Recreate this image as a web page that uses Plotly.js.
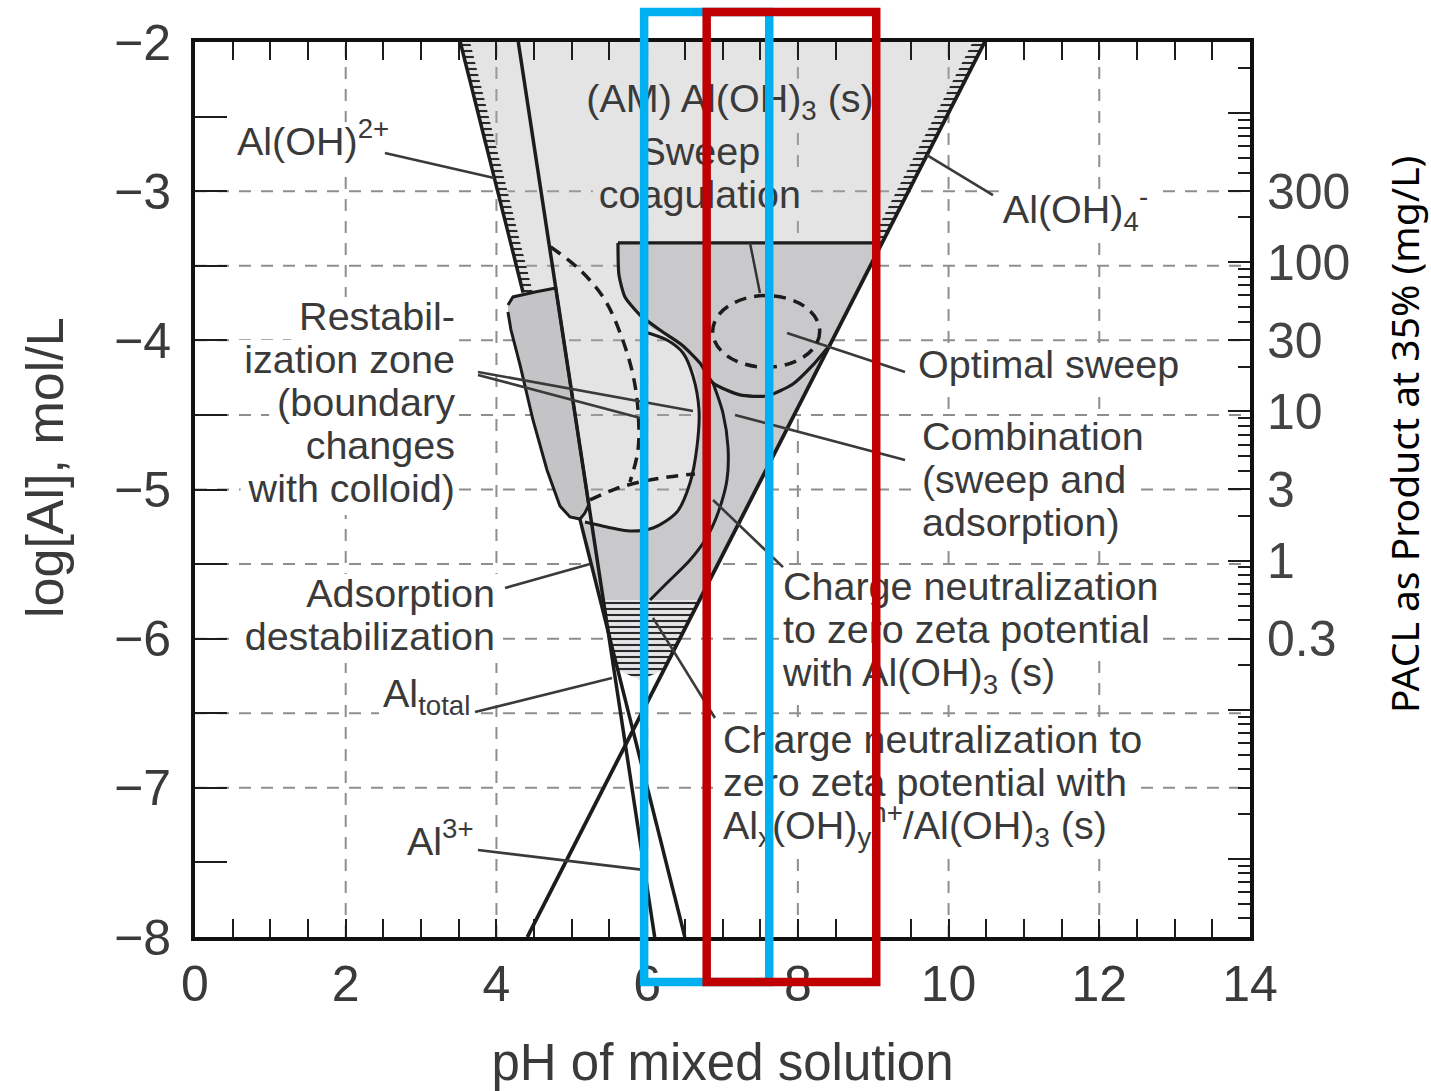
<!DOCTYPE html>
<html><head><meta charset="utf-8">
<script src="https://cdn.plot.ly/plotly-3.0.1.min.js"></script>
<style>html,body{margin:0;padding:0;background:#fff;}#chart{width:1431px;height:1091px;}</style>
</head><body><div id="chart"></div>
<script>
// ---------------- axes ----------------
const phTicks = [0, 2, 4, 6, 8, 10, 12, 14];
const logTicks = [-8, -7, -6, -5, -4, -3, -2];
const logHalfGrid = [-6.5, -5.5, -4.5, -3.5];
const logHalfEdge = [-7.5, -2.5];
const paclLabels = [300, 100, 30, 10, 3, 1, 0.3];          // mg/L, right axis
const paclDecadesUnlabeled = [1000, 0.1, 0.01];
const paclOffset = 5.477;                                   // log10(mg/L) = log[Al] + offset

// ---------------- species lines (pH, log[Al]) ----------------
const alOH4_pH = [10.48, 4.41];               const alOH4_log = [-2, -8];
const alOH2_pH = [3.52, 4.354, null, 5.109, 6.50]; const alOH2_log = [-2, -3.68, null, -5.20, -8];
const al3_pH = [4.29, 6.10];                  const al3_log = [-2, -8];

// ---------------- regions ----------------
const sweep_pH = [3.52, 10.48, 6.42, 6.01, 5.545];
const sweep_log = [-2, -2, -6.01, -6.22, -6.076];
const hatchL_pH = [3.52, 3.65, 4.484, 4.354];   const hatchL_log = [-2, -2, -3.68, -3.68];
const hatchR_pH = [10.48, 10.32, 8.957, 9.117]; const hatchR_log = [-2, -2, -3.347, -3.347];
const hatchTip_pH = [5.378, 6.695, 6.221, 5.905, 5.611];
const hatchTip_log = [-5.741, -5.741, -6.21, -6.277, -6.21];
const combo_pH = [5.613, 9.117, 6.695, 5.378, 5.109, 5.467, 5.772, 6.078, 6.396, 6.569, 6.675, 6.702, 6.635, 6.476, 6.263, 6.038, 5.879, 5.706, 5.626];
const combo_log = [-3.347, -3.347, -5.741, -5.741, -5.218, -5.251, -5.278, -5.271, -5.171, -4.970, -4.715, -4.447, -4.219, -4.065, -3.978, -3.911, -3.823, -3.709, -3.562];
const boxTop_pH = [9.117, 5.613];             const boxTop_log = [-3.347, -3.347];
const bowl_pH = [5.613, 5.626, 5.706, 5.905, 6.170, 6.462, 6.701, 6.874, 7.232, 7.590, 7.935, 8.201, 8.425];
const bowl_log = [-3.347, -3.562, -3.709, -3.830, -3.931, -4.031, -4.152, -4.286, -4.366, -4.373, -4.293, -4.165, -4.031];
const oval_pH = [5.971, 6.263, 6.476, 6.608, 6.688, 6.661, 6.569, 6.396, 6.078, 5.772, 5.467, 5.175];
const oval_log = [-3.944, -3.998, -4.085, -4.239, -4.467, -4.715, -4.956, -5.151, -5.258, -5.278, -5.251, -5.218];
const inner_pH = [6.874, 7.006, 7.073, 7.059, 6.940, 6.794, 6.569, 6.263, 6.038];
const inner_log = [-4.286, -4.487, -4.715, -4.936, -5.157, -5.318, -5.473, -5.627, -5.741];
const divider_pH = [7.365, 7.497];            const divider_log = [-3.347, -3.683];
const restab_pH = [4.153, 4.220, 4.512, 4.787, 5.226, 5.170, 5.109, 4.976, 4.843, 4.671, 4.485, 4.313, 4.193, 4.153];
const restab_log = [-3.763, -3.709, -3.676, -3.649, -5.104, -5.160, -5.198, -5.184, -5.111, -4.869, -4.534, -4.165, -3.931, -3.810];
const dash1_pH = [4.72, 5.109, 5.441, 5.666, 5.812, 5.879, 5.879, 5.772];
const dash1_log = [-3.374, -3.528, -3.730, -3.984, -4.232, -4.467, -4.735, -4.950];
const dash2_pH = [5.242, 5.573, 5.905, 6.277, 6.635];
const dash2_log = [-5.070, -4.997, -4.950, -4.916, -4.896];
const optimal_pH = [6.87, 8.29];              const optimal_log = [-4.18, -3.70];

// ---------------- pointer lines ----------------
const pointers_pH = [[2.52, 3.97], [9.713, 10.589], [3.755, 6.608], [3.755, 6.011], [9.422, 7.166], [7.856, 9.422], [6.874, 7.803], [6.078, 6.900], [4.114, 5.242], [3.716, 5.534], [3.755, 5.95]];
const pointers_log = [[-2.744, -2.912], [-2.758, -3.026], [-4.212, -4.474], [-4.232, -4.534], [-4.802, -4.500], [-3.951, -4.212], [-5.070, -5.520], [-5.861, -6.532], [-5.660, -5.499], [-6.492, -6.264], [-7.417, -7.55]];

// ---------------- labels ----------------
const labelText = [
  ['Al(OH)<sup>2+</sup>'],
  ['(AM) Al(OH)<sub>3</sub> (s)'],
  ['Sweep', 'coagulation'],
  ['Al(OH)<sub>4</sub><sup>-</sup>'],
  ['Restabil-', 'ization zone', '(boundary', 'changes', 'with colloid)'],
  ['Optimal sweep'],
  ['Combination', '(sweep and', 'adsorption)'],
  ['Charge neutralization', 'to zero zeta potential', 'with Al(OH)<sub>3</sub> (s)'],
  ['Charge neutralization to', 'zero zeta potential with', 'Al<sub>x</sub>(OH)<sub>y</sub><sup>n+</sup>/Al(OH)<sub>3</sub> (s)'],
  ['Adsorption', 'destabilization'],
  ['Al<sub>total</sub>'],
  ['Al<sup>3+</sup>']
];
const label_pH  = [0.557, 7.10, 6.70, 10.72, 3.45, 9.594, 9.647, 7.803, 7.006, 3.981, 2.495, 2.813];
const label_log = [-2.69, -2.40, -2.758, -3.146, -3.864, -4.185, -4.668, -5.674, -6.699, -5.721, -6.391, -7.383];
const labelPos = ['middle right', 'middle center', 'middle center', 'middle right', 'middle left', 'middle right', 'middle right', 'middle right', 'middle right', 'middle left', 'middle right', 'middle right'];

// ---------------- highlight bands ----------------
const blueBand_pH = [5.96, 7.62];
const redBand_pH = [6.79, 9.04];

// ================= build =================
const FONT = 'Liberation Sans, Arial, Helvetica, sans-serif';
const TXT = '#3a3a3a';
const INK = '#1c1c1c';
const LABEL_SIZE = 39.5;
const PX_X = 14 / 1055, PX_Y = 6 / 895;        // data units per pixel
const LINE_STEP = 43 * PX_Y;
const NOLINE = {color: 'rgba(0,0,0,0)', width: 0};
const data = [];
function poly(x, y, fillcolor, extra) {
  data.push(Object.assign({x, y, mode: 'lines', fill: 'toself', fillcolor, line: NOLINE, hoverinfo: 'skip', showlegend: false}, extra || {}));
}
function curve(x, y, width, color, extra) {
  data.push(Object.assign({x, y, mode: 'lines', line: {color, width}, hoverinfo: 'skip', showlegend: false}, extra || {}));
}
const hatch = bg => ({shape: '-', size: 6, solidity: 0.35, fgcolor: '#2a2a2a', bgcolor: bg, fillmode: 'replace'});

// dashed grid (as traces so labels can mask it)
const gx = [], gy = [];
phTicks.slice(1, -1).forEach(v => { gx.push(v, v, null); gy.push(-8, -2, null); });
logTicks.slice(1, -1).concat(logHalfGrid).forEach(v => { gx.push(0, 14, null); gy.push(v, v, null); });
curve(gx, gy, 2, '#8e8e8e', {line: {color: '#8e8e8e', width: 2, dash: '12px,10px'}});

// white masks behind labels
const cv = document.createElement('canvas').getContext('2d');
function textWidth(html, size) {
  let w = 0;
  html.split(/(<su[bp]>.*?<\/su[bp]>)/).forEach(p => {
    if (!p) return;
    const m = p.match(/^<su[bp]>(.*)<\/su[bp]>$/);
    cv.font = (m ? size * 0.7 : size) + 'px "Liberation Sans"';
    w += cv.measureText(m ? m[1] : p).width;
  });
  return w;
}
const mx = [], my = [];
labelText.forEach((lines, k) => {
  lines.forEach((t, i) => {
    const w = textWidth(t, LABEL_SIZE);
    let x0, x1;
    if (labelPos[k] === 'middle right') { x0 = label_pH[k] - 4 * PX_X; x1 = label_pH[k] + (w + 8) * PX_X; }
    else if (labelPos[k] === 'middle left') { x0 = label_pH[k] - (w + 8) * PX_X; x1 = label_pH[k] + 4 * PX_X; }
    else { x0 = label_pH[k] - (w / 2 + 6) * PX_X; x1 = label_pH[k] + (w / 2 + 6) * PX_X; }
    const yc = label_log[k] - i * LINE_STEP, h = 23 * PX_Y;
    mx.push(x0, x1, x1, x0, x0, null); my.push(yc - h, yc - h, yc + h, yc + h, yc - h, null);
  });
});
poly(mx, my, '#ffffff');

poly(sweep_pH, sweep_log, 'rgba(175,175,180,0.34)');
poly(hatchL_pH, hatchL_log, '#e3e3e5', {fillpattern: hatch('#e3e3e5')});
poly(hatchR_pH, hatchR_log, '#e3e3e5', {fillpattern: hatch('#e3e3e5')});
poly(combo_pH, combo_log, '#c9c9cc');
poly(hatchTip_pH, hatchTip_log, '#e6e6e8', {fillpattern: hatch('#e6e6e8')});
curve(alOH2_pH, alOH2_log, 3.5, INK);
poly(restab_pH, restab_log, '#c4c4c7', {line: {color: INK, width: 3}});
curve(alOH4_pH, alOH4_log, 3.8, INK);
curve(al3_pH, al3_log, 3.5, INK);
curve(boxTop_pH, boxTop_log, 3.2, INK);
curve(bowl_pH, bowl_log, 3.2, INK, {line: {color: INK, width: 3.2, shape: 'spline', smoothing: 0.6}});
curve(oval_pH, oval_log, 3, INK, {line: {color: INK, width: 3, shape: 'spline', smoothing: 0.8}});
curve(inner_pH, inner_log, 3, INK, {line: {color: INK, width: 3, shape: 'spline', smoothing: 0.8}});
curve(divider_pH, divider_log, 2.5, '#333');
curve(dash1_pH, dash1_log, 3.5, INK, {line: {color: INK, width: 3.5, dash: '12px,8px', shape: 'spline'}});
curve(dash2_pH, dash2_log, 3.5, INK, {line: {color: INK, width: 3.5, dash: '12px,8px', shape: 'spline'}});

// pointers
const px = [], py = [];
pointers_pH.forEach((p, i) => { px.push(p[0], p[1], null); py.push(pointers_log[i][0], pointers_log[i][1], null); });
curve(px, py, 2.6, '#3a3a3a');

// labels as text traces
labelText.forEach((lines, k) => {
  data.push({
    x: lines.map(() => label_pH[k]),
    y: lines.map((t, i) => label_log[k] - i * LINE_STEP),
    text: lines, mode: 'text', textposition: labelPos[k],
    textfont: {family: FONT, size: LABEL_SIZE, color: TXT},
    hoverinfo: 'skip', showlegend: false, cliponaxis: false
  });
});

// carrier trace for right axis
data.push({x: [7], y: [-5], yaxis: 'y2', mode: 'markers', marker: {opacity: 0}, hoverinfo: 'skip', showlegend: false});

// right axis ticks
const toLog = v => Math.log10(v) - paclOffset;
const paclMajor = paclLabels.concat(paclDecadesUnlabeled);
const paclMinor = [];
[0.001, 0.01, 0.1, 1, 10, 100, 1000].forEach(d => {
  for (let m = 2; m <= 9; m++) {
    const v = +(m * d).toPrecision(3);
    const lv = toLog(v);
    if (lv > -8 && lv < -2 && paclLabels.indexOf(v) < 0) paclMinor.push(lv);
  }
});

const tickFont = {family: FONT, size: 50, color: TXT};
const layout = {
  width: 1431, height: 1091,
  margin: {l: 195, r: 181, t: 42, b: 154},
  paper_bgcolor: '#ffffff', plot_bgcolor: '#ffffff',
  showlegend: false, hovermode: false,
  xaxis: {
    range: [0, 14], tickmode: 'array', tickvals: phTicks,
    ticks: 'inside', ticklen: 18, tickwidth: 2, tickcolor: INK,
    showline: true, linewidth: 4, linecolor: '#111', mirror: 'ticks', zeroline: false, showgrid: false,
    tickfont: tickFont, ticklabelstandoff: 0,
    minor: {tickmode: 'linear', tick0: 0, dtick: 0.5, ticks: 'inside', ticklen: 18, tickwidth: 2, tickcolor: INK, showgrid: false},
    title: {text: 'pH of mixed solution', font: {family: FONT, size: 51, color: TXT}, standoff: 43}
  },
  yaxis: {
    range: [-8, -2], tickmode: 'array', tickvals: logTicks,
    ticks: 'inside', ticklen: 32, tickwidth: 2, tickcolor: INK,
    showline: true, linewidth: 4, linecolor: '#111', mirror: true, zeroline: false, showgrid: false,
    tickfont: tickFont, ticklabelstandoff: 10,
    minor: {tickmode: 'array', tickvals: logHalfGrid.concat(logHalfEdge), ticks: 'inside', ticklen: 32, tickwidth: 2, tickcolor: INK, showgrid: false}
  },
  yaxis2: {
    overlaying: 'y', side: 'right', range: [-8, -2],
    tickmode: 'array', tickvals: paclMajor.map(toLog),
    ticktext: paclMajor.map(v => paclLabels.indexOf(v) >= 0 ? String(v) : ''),
    ticks: 'inside', ticklen: 22, tickwidth: 2, tickcolor: INK,
    showgrid: false, showline: false, zeroline: false,
    tickfont: {family: FONT, size: 50, color: '#444'}, ticklabelstandoff: 16,
    minor: {tickmode: 'array', tickvals: paclMinor, ticks: 'inside', ticklen: 12, tickwidth: 2, tickcolor: INK, showgrid: false}
  },
  annotations: [
    {text: 'log[Al], mol/L', textangle: -90, xref: 'paper', yref: 'paper', x: -0.1422, y: 0.5251,
     xanchor: 'center', yanchor: 'middle', showarrow: false, font: {family: FONT, size: 52, color: TXT}},
    {text: 'PACL as Product at 35% (mg/L)', textangle: -90, xref: 'paper', yref: 'paper', x: 1.1460, y: 0.5609,
     xanchor: 'center', yanchor: 'middle', showarrow: false, font: {family: 'Noto Sans, Open Sans, sans-serif', size: 39, color: '#000'}}
  ],
  shapes: [
    {type: 'circle', xref: 'x', yref: 'y', x0: optimal_pH[0], x1: optimal_pH[1], y0: optimal_log[0], y1: optimal_log[1],
     line: {color: INK, width: 3.5, dash: '12px,8px'}, layer: 'above'},
    {type: 'rect', xref: 'paper', yref: 'paper', x0: blueBand_pH[0] / 14, x1: blueBand_pH[1] / 14, y0: -0.0503, y1: 1.0335,
     line: {color: '#00b0f0', width: 8.5}, fillcolor: 'rgba(0,0,0,0)', layer: 'above'},
    {type: 'rect', xref: 'paper', yref: 'paper', x0: redBand_pH[0] / 14, x1: redBand_pH[1] / 14, y0: -0.0503, y1: 1.0335,
     line: {color: '#c00000', width: 8.5}, fillcolor: 'rgba(0,0,0,0)', layer: 'above'}
  ]
};
Plotly.newPlot('chart', data, layout, {staticPlot: true});
</script></body></html>
